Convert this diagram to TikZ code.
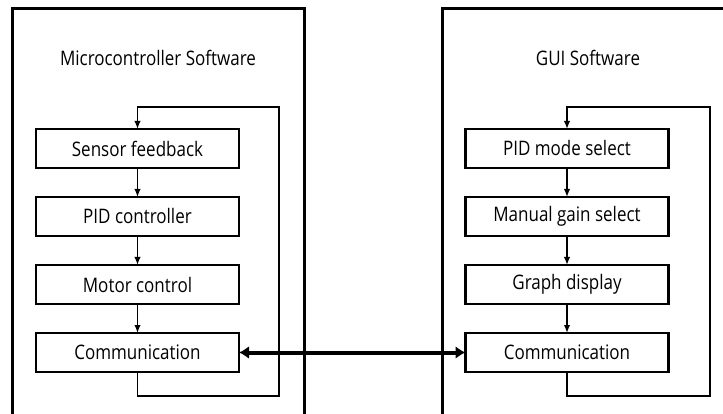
\documentclass[tikz,border=0pt]{standalone}
\usepackage{fontspec}
\setmainfont[FakeStretch=0.85]{Open Sans}
\usetikzlibrary{positioning,arrows.meta}
\begin{document}
\begin{tikzpicture}[x=1pt,y=-1pt,
   block/.style={draw,line width=2.4pt,minimum width=203pt,minimum height=39pt,inner sep=0pt,outer sep=0pt},
   flow/.style={line width=1.8pt,-{Latex[length=8pt,width=6.5pt]}},
   frame/.style={line width=3pt},
   node distance=29pt,
   font=\fontsize{20pt}{24pt}\selectfont]
   \clip (0,0) rectangle (723,414);
   \draw[frame] (12,9) rectangle (304,440);
   \draw[frame] (442,9) rectangle (760,440);
   \node (mtitle) at (158,58) {Microcontroller Software};
   \node (gtitle) at (588,58) {GUI Software};

   \node[block] (msensor) at (137.5,148.5) {Sensor feedback};
   \node[block, below=of msensor] (mpid) {PID controller};
   \node[block, below=of mpid] (mmotor) {Motor control};
   \node[block, below=of mmotor] (mcomm) {Communication};

   \node[block] (gmode) at (567,148.5) {PID mode select};
   \node[block, below=of gmode] (ggain) {Manual gain select};
   \node[block, below=of ggain] (ggraph) {Graph display};
   \node[block, below=of ggraph] (gcomm) {Communication};

   \draw[flow] (msensor) -- (mpid);
   \draw[flow] (mpid) -- (mmotor);
   \draw[flow] (mmotor) -- (mcomm);
   \draw[flow] (gmode) -- (ggain);
   \draw[flow] (ggain) -- (ggraph);
   \draw[flow] (ggraph) -- (gcomm);

   \coordinate (mbr) at (279,396);
   \coordinate (mtr) at (279,107);
   \coordinate (gbr) at (710,396);
   \coordinate (gtr) at (710,107);
   \draw[flow] (mcomm.south) |- (mbr) -- (mtr) -| (msensor.north);
   \draw[flow] (gcomm.south) |- (gbr) -- (gtr) -| (gmode.north);

   \draw[line width=4pt,{Latex[length=10pt,width=13pt]}-{Latex[length=10pt,width=13pt]}] (mcomm.east) -- (gcomm.west);
\end{tikzpicture}
\end{document}
